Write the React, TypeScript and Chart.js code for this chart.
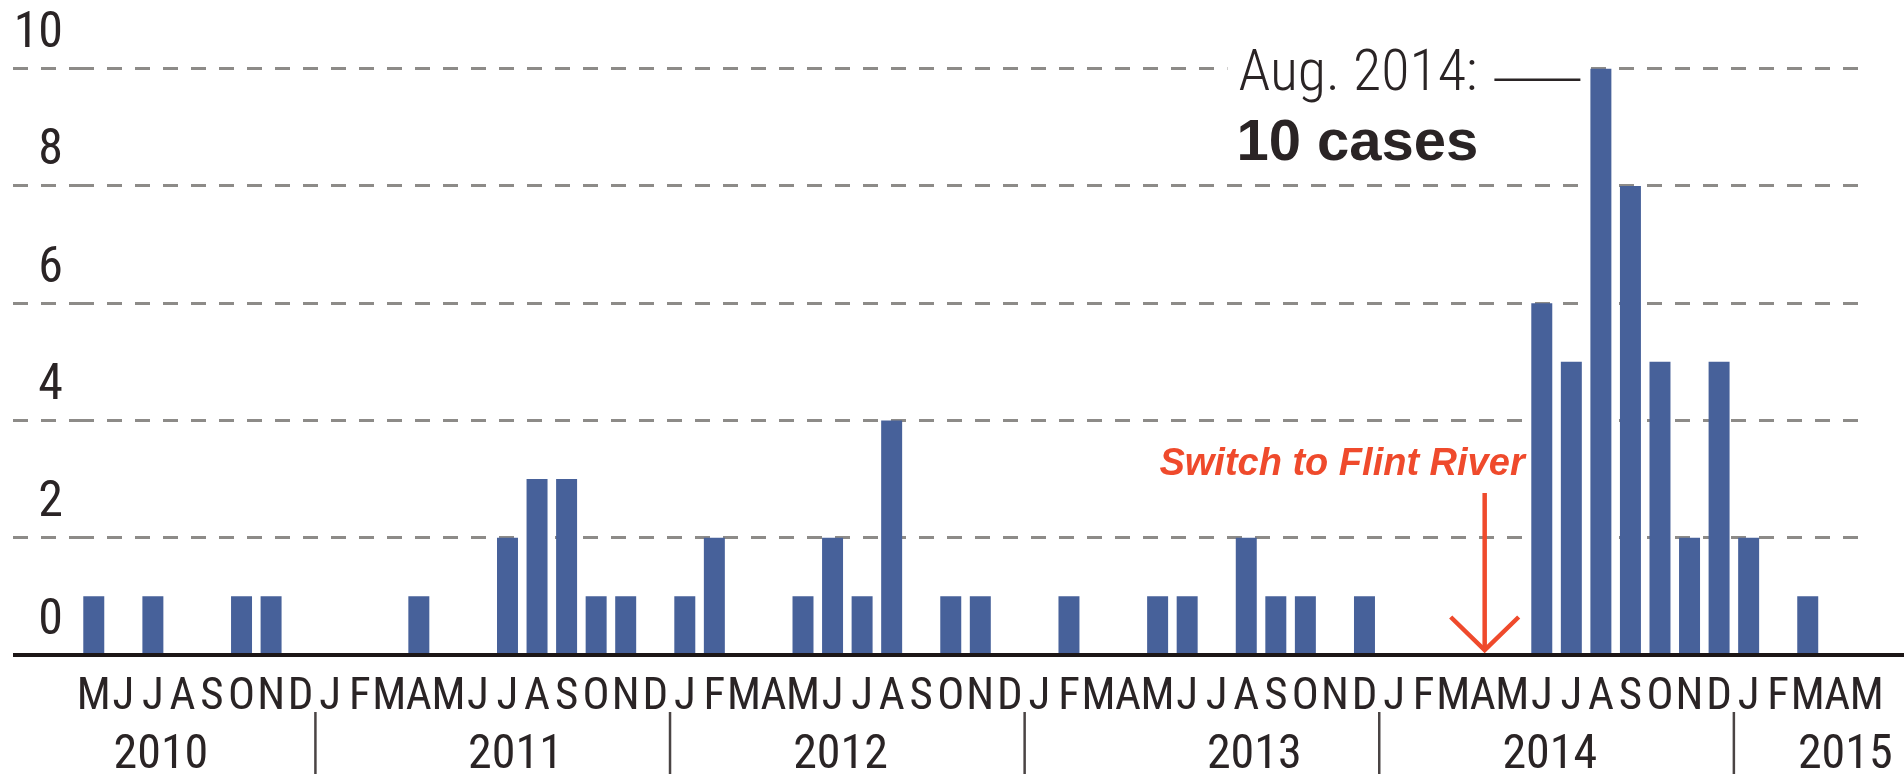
import React, { useEffect, useRef } from 'react';
import { Chart, registerables } from 'chart.js';

Chart.register(...registerables);

// Month initials, May 2010 – May 2015
const MONTH_LABELS = [
  'M', 'J', 'J', 'A', 'S', 'O', 'N', 'D',
  'J', 'F', 'M', 'A', 'M', 'J', 'J', 'A', 'S', 'O', 'N', 'D',
  'J', 'F', 'M', 'A', 'M', 'J', 'J', 'A', 'S', 'O', 'N', 'D',
  'J', 'F', 'M', 'A', 'M', 'J', 'J', 'A', 'S', 'O', 'N', 'D',
  'J', 'F', 'M', 'A', 'M', 'J', 'J', 'A', 'S', 'O', 'N', 'D',
  'J', 'F', 'M', 'A', 'M',
];

// Cases per month
const CASES = [
  1, 0, 1, 0, 0, 1, 1, 0,
  0, 0, 0, 1, 0, 0, 2, 3, 3, 1, 1, 0,
  1, 2, 0, 0, 1, 2, 1, 4, 0, 1, 1, 0,
  0, 1, 0, 0, 1, 1, 0, 2, 1, 1, 0, 1,
  0, 0, 0, 0, 0, 6, 5, 10, 8, 5, 2, 5,
  2, 0, 1, 0, 0,
];

const Y_TICKS = [0, 2, 4, 6, 8, 10];
const YEAR_LABELS = ['2010', '2011', '2012', '2013', '2014', '2015'];
const YEAR_LABEL_MONTH_INDEX = [2, 14, 25, 39, 49, 59];

const SWITCH_MONTH_INDEX = 47; // April 2014
const SWITCH_TEXT = 'Switch to Flint River';
const PEAK_TITLE = 'Aug. 2014:';
const PEAK_VALUE_TEXT = '10 cases';

const NARROW = "'Roboto Condensed', 'DejaVu Sans Condensed', sans-serif";
const SANS = "'Liberation Sans', Arial, Helvetica, sans-serif";
const INK = '#2a2425';
const BAR = '#47619a';
const GRID = '#8d8b88';
const RED = '#ef4a2c';

const overlayPlugin = {
  id: 'overlay',
  beforeDatasetsDraw(chart: any) {
    const { ctx, scales } = chart;
    const x = scales.x;
    const y = scales.y;
    const y0 = y.getPixelForValue(0);
    const peak = CASES.indexOf(Math.max(...CASES));
    const bar = chart.getDatasetMeta(0).data[peak] as any;
    const barLeft = bar.x - bar.width / 2;
    const yTop = y.getPixelForValue(CASES[peak]);
    ctx.save();
    ctx.fillStyle = '#ffffff';
    // knock out the top grid line behind the annotation
    ctx.fillRect(barLeft - 363, yTop - 30, 361, 60);
    // grid lines stop at the last month
    const gridEnd = x.getPixelForValue(MONTH_LABELS.length - 1) + 1;
    ctx.fillRect(gridEnd, 0, chart.width - gridEnd, y0 - 3);
    ctx.restore();
  },
  afterDatasetsDraw(chart: any) {
    const { ctx, scales } = chart;
    const x = scales.x;
    const y = scales.y;
    const yr = scales.xYear;
    const y0 = y.getPixelForValue(0);
    ctx.save();

    // baseline
    ctx.strokeStyle = '#1c1616';
    ctx.lineWidth = 4;
    ctx.beginPath();
    ctx.moveTo(13, y0);
    ctx.lineTo(chart.width, y0);
    ctx.stroke();

    // year separators
    ctx.strokeStyle = '#4a4444';
    ctx.lineWidth = 2.5;
    for (let i = 1; i < MONTH_LABELS.length; i++) {
      if (MONTH_LABELS[i] === 'J' && MONTH_LABELS[i - 1] === 'D') {
        const bx = (x.getPixelForValue(i - 1) + x.getPixelForValue(i)) / 2;
        ctx.beginPath();
        ctx.moveTo(bx, yr.top - 5);
        ctx.lineTo(bx, chart.height);
        ctx.stroke();
      }
    }

    // peak annotation
    const peak = CASES.indexOf(Math.max(...CASES));
    const bar = chart.getDatasetMeta(0).data[peak] as any;
    const barLeft = bar.x - bar.width / 2;
    const yTop = y.getPixelForValue(CASES[peak]);
    ctx.fillStyle = INK;
    ctx.textAlign = 'left';
    ctx.textBaseline = 'alphabetic';
    ctx.font = `300 58px ${NARROW}`;
    ctx.fillText(PEAK_TITLE, barLeft - 352, yTop + 21);
    ctx.font = `bold 58px ${SANS}`;
    ctx.fillText(PEAK_VALUE_TEXT, barLeft - 354, yTop + 91);
    ctx.strokeStyle = INK;
    ctx.lineWidth = 2.5;
    ctx.beginPath();
    ctx.moveTo(barLeft - 96, yTop + 11);
    ctx.lineTo(barLeft - 10, yTop + 11);
    ctx.stroke();

    // switch arrow
    const ax = x.getPixelForValue(SWITCH_MONTH_INDEX) + 2;
    ctx.strokeStyle = RED;
    ctx.lineWidth = 4.5;
    ctx.lineJoin = 'miter';
    ctx.beginPath();
    ctx.moveTo(ax, y0 - 162);
    ctx.lineTo(ax, y0 - 5);
    ctx.stroke();
    ctx.beginPath();
    ctx.moveTo(ax - 34, y0 - 38);
    ctx.lineTo(ax, y0 - 5);
    ctx.lineTo(ax + 34, y0 - 38);
    ctx.stroke();
    ctx.fillStyle = RED;
    ctx.font = `italic bold 38px ${SANS}`;
    ctx.textAlign = 'right';
    ctx.fillText(SWITCH_TEXT, ax + 40, y0 - 180);

    ctx.restore();
  },
};

export default function App() {
  const ref = useRef<HTMLCanvasElement>(null);

  useEffect(() => {
    document.body.style.margin = '0';
    const canvas = ref.current;
    if (!canvas) return;
    const chart = new Chart(canvas, {
      type: 'bar',
      data: {
        labels: MONTH_LABELS,
        datasets: [
          {
            data: CASES,
            backgroundColor: BAR,
            borderWidth: 0,
            barPercentage: 0.71,
            categoryPercentage: 1,
          },
        ],
      },
      options: {
        responsive: false,
        animation: false,
        devicePixelRatio: 1,
        layout: { padding: { top: 10, right: 19.5, left: 0, bottom: 0 } },
        plugins: {
          legend: { display: false },
          tooltip: { enabled: false },
        },
        scales: {
          x: {
            type: 'category',
            position: 'bottom',
            weight: 0,
            grid: { display: false, drawTicks: false },
            border: { display: false },
            ticks: {
              autoSkip: false,
              maxRotation: 0,
              minRotation: 0,
              padding: 20,
              color: INK,
              font: { family: NARROW, size: 45, lineHeight: 1 },
            },
            afterFit: (s: any) => {
              s.height = 62;
            },
          },
          xYear: {
            type: 'category',
            position: 'bottom',
            weight: 1,
            grid: { display: false, drawTicks: false },
            border: { display: false },
            ticks: {
              autoSkip: false,
              maxRotation: 0,
              minRotation: 0,
              padding: 15,
              labelOffset: 8,
              color: INK,
              font: { family: NARROW, size: 48, lineHeight: 1 },
              callback: (_v: any, i: number) => {
                const k = YEAR_LABEL_MONTH_INDEX.indexOf(i);
                return k >= 0 ? YEAR_LABELS[k] : '';
              },
            },
            afterFit: (s: any) => {
              s.height = 57;
            },
          },
          y: {
            type: 'linear',
            position: 'left',
            min: 0,
            max: 11,
            afterBuildTicks: (s: any) => {
              s.ticks = Y_TICKS.map((v) => ({ value: v }));
            },
            grid: {
              display: true,
              drawOnChartArea: true,
              drawTicks: true,
              tickLength: 66,
              lineWidth: 3,
              tickWidth: 3,
              color: (c: any) => (c.tick && c.tick.value === 0 ? 'rgba(0,0,0,0)' : GRID),
              tickColor: (c: any) => (c.tick && c.tick.value === 0 ? 'rgba(0,0,0,0)' : GRID),
              tickBorderDash: [15, 13],
            },
            border: { display: false, dash: [15, 13] },
            ticks: {
              padding: -50,
              labelOffset: -34,
              color: INK,
              font: { family: NARROW, size: 50, lineHeight: 1 },
            },
            afterFit: (s: any) => {
              s.width = 79;
            },
          },
        },
      },
      plugins: [overlayPlugin],
    } as any);
    return () => chart.destroy();
  }, []);

  return <canvas ref={ref} width={1904} height={774} style={{ display: 'block' }} />;
}
